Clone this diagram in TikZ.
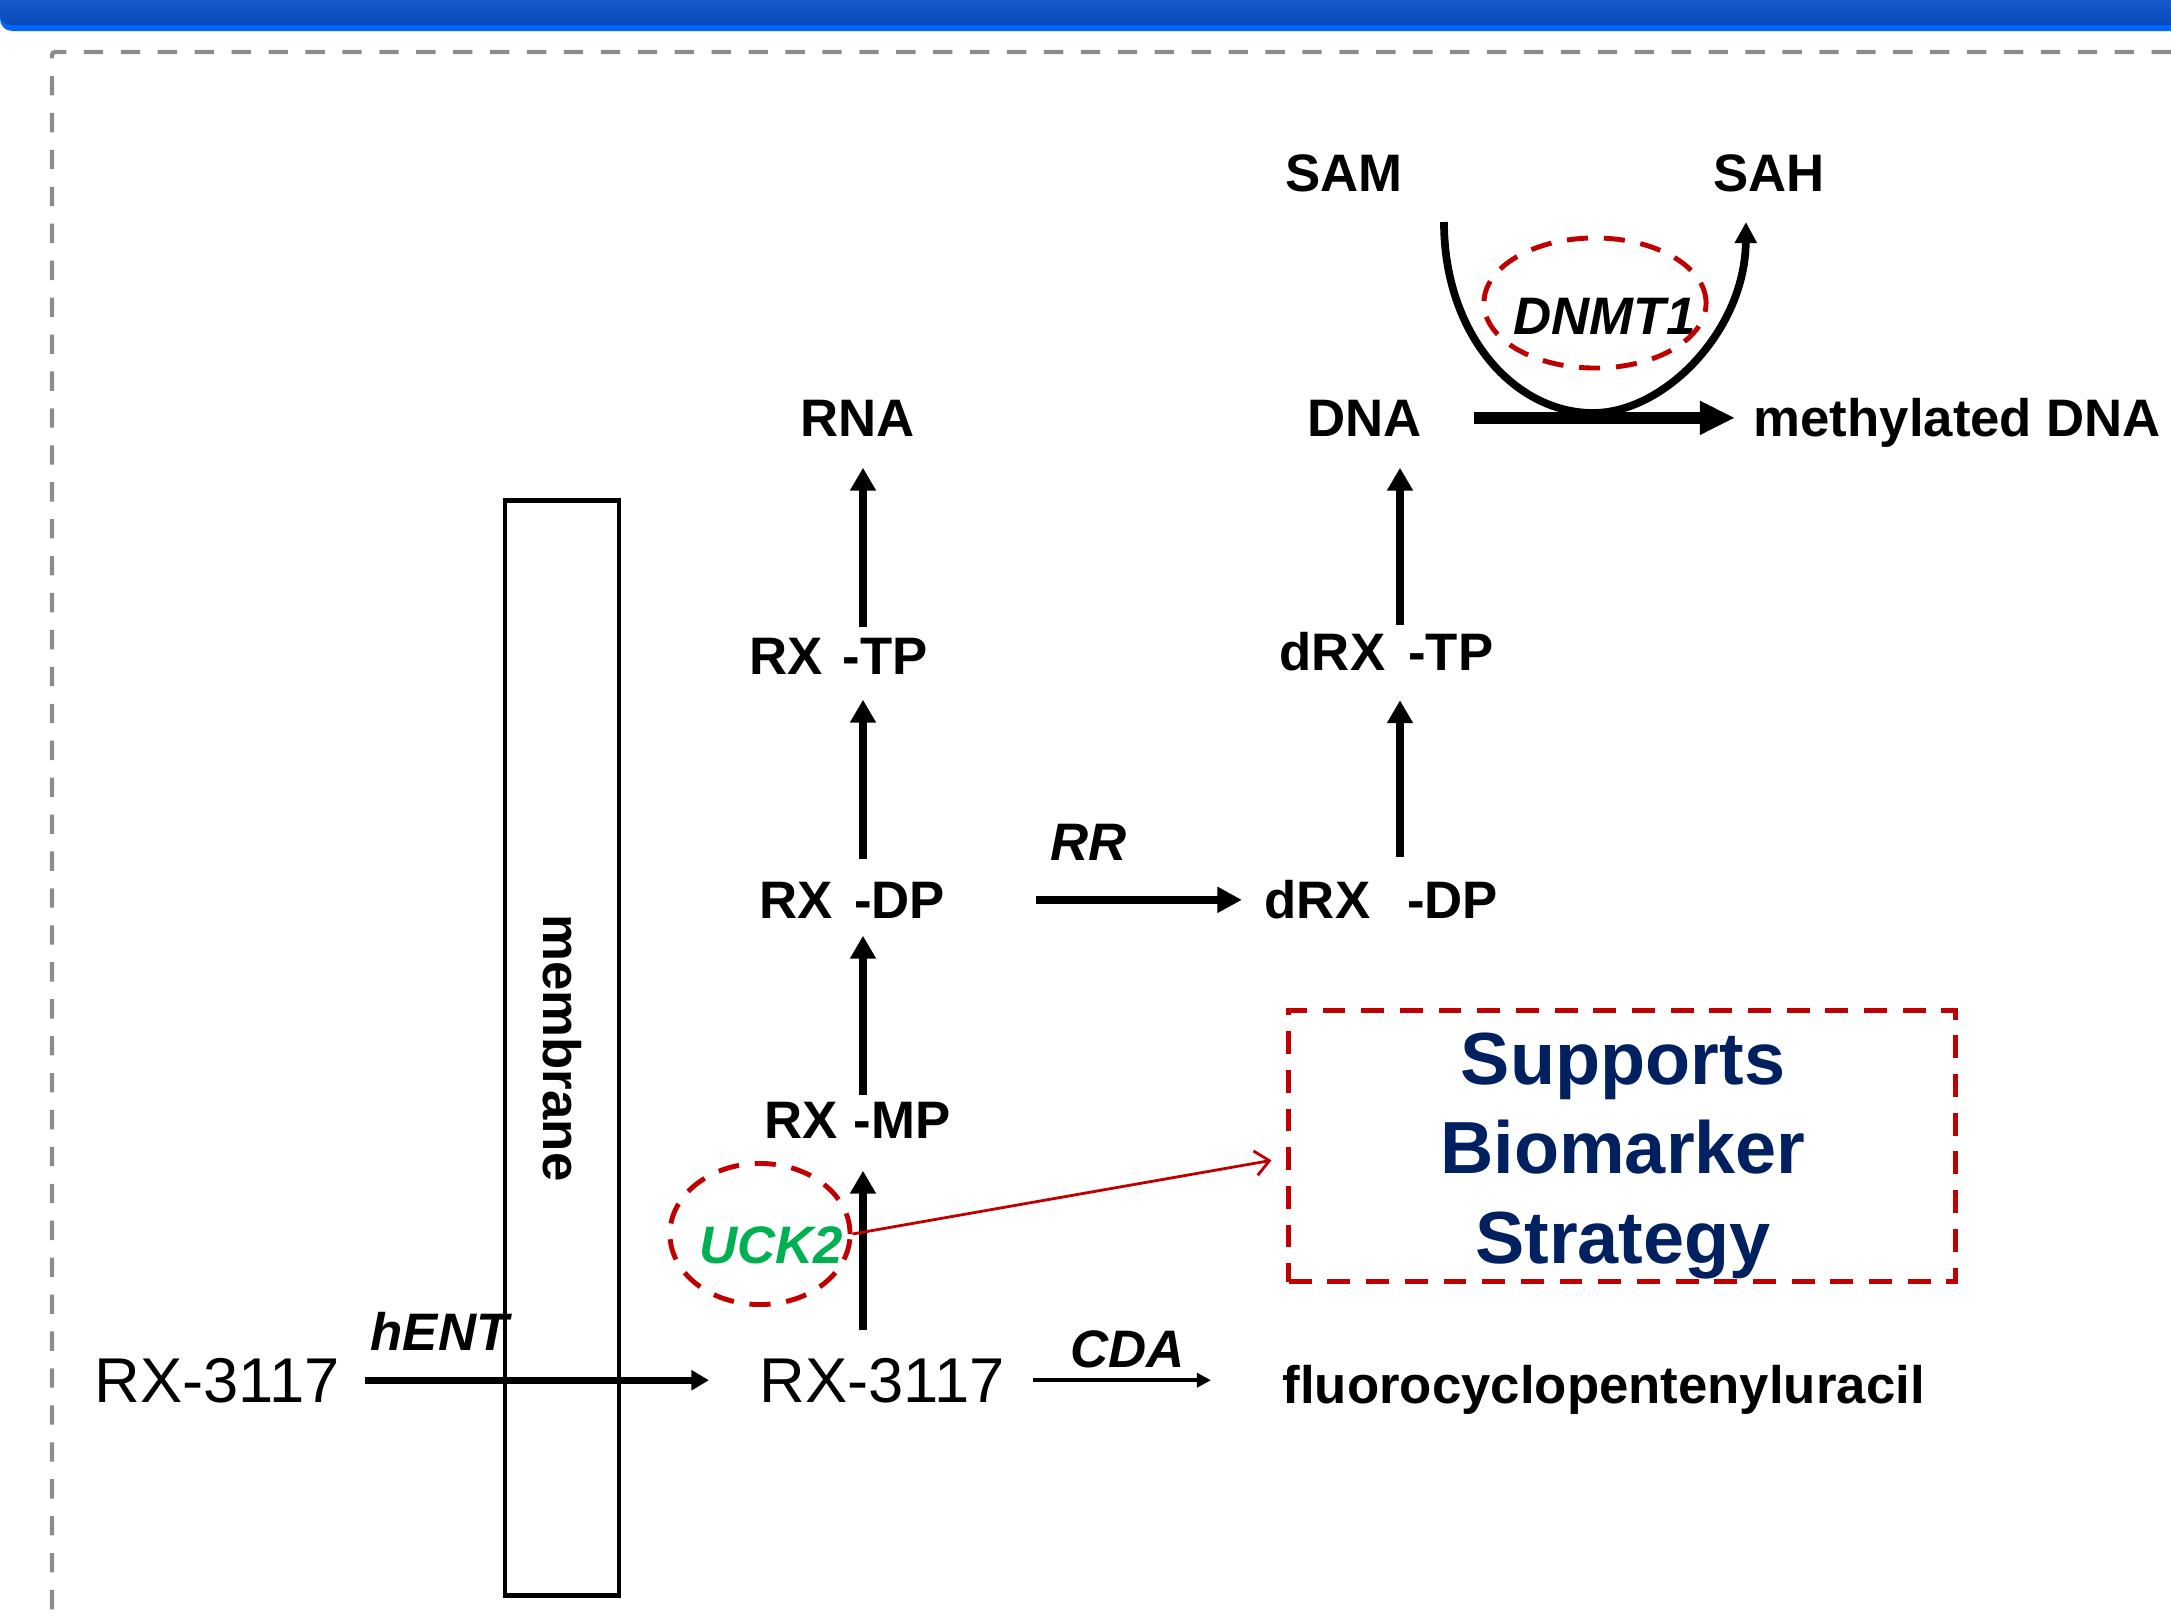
\documentclass[tikz,border=0pt]{standalone}
\usepackage{fontspec}
\setmainfont{Liberation Sans}
\usetikzlibrary{arrows.meta, shapes.geometric, positioning}
\definecolor{BarBlueTop}{HTML}{1558C8}
\definecolor{BarBlueBot}{HTML}{0A4BBB}
\definecolor{BarBright}{HTML}{0066FF}
\definecolor{FrameGray}{HTML}{8C8C8C}
\definecolor{MarkRed}{HTML}{C00000}
\definecolor{UckGreen}{HTML}{00B050}
\definecolor{BoxNavy}{HTML}{002060}

\begin{document}
\begin{tikzpicture}[x=0.01cm, y=-0.01cm,
    lbl/.style={font=\fontsize{15}{18}\selectfont\bfseries, inner sep=0pt, anchor=base west},
    enz/.style={font=\fontsize{15}{18}\selectfont\bfseries\itshape, inner sep=0pt, anchor=base west},
    drug/.style={font=\fontsize{18}{21}\selectfont, inner sep=0pt, anchor=base west},
    uparrow/.style={line width=2pt, -{Triangle[length=6.5pt, width=7pt]}},
    enzring/.style={draw=MarkRed, line width=1.4pt, dash pattern=on 6pt off 4.5pt, ellipse, inner sep=0pt}
]
        \useasboundingbox (0,0) rectangle (2171,1624);

        % 1. Title bar and frame
        \fill[BarBright] (2171,0) -- (0,0) [rounded corners=0.12cm] -- (0,31) [sharp corners] -- (2171,31) -- cycle;
        \shade[top color=BarBlueTop, bottom color=BarBlueBot] (2171,0) -- (0,0) [rounded corners=0.1cm] -- (0,25) [sharp corners] -- (2171,25) -- cycle;
        \draw[FrameGray, line width=1.2pt, dash pattern=on 5.5pt off 5pt, rounded corners=0.03cm] (2171,52) -- (52,52) -- (52,1624);

        % 2. Membrane
        \node[draw, line width=1.4pt, rotate=-90, minimum width=10.94cm, minimum height=1.14cm, inner sep=0pt,
              font=\fontsize{15}{18}\selectfont\bfseries] (membrane) at (562,1048) {membrane};

        % 3. Metabolites
        \node[drug] (rxout) at (94,1402) {RX-3117};
        \node[drug] (rxin) at (759,1402) {RX-3117};
        \node[lbl] (fcpu) at (1282,1403) {fluorocyclopentenyluracil};
        \node[lbl] (rxmp) at (764,1138) {RX\hspace{0.3em}-MP};
        \node[lbl] (rxdp) at (759,918) {RX\hspace{0.4em}-DP};
        \node[lbl] (rxtp) at (749,674) {RX\hspace{0.37em}-TP};
        \node[lbl] (rna) at (800,436) {RNA};
        \node[lbl] (drxdp) at (1264,918) {dRX\hspace{0.7em}-DP};
        \node[lbl] (drxtp) at (1279,670) {dRX\hspace{0.44em}-TP};
        \node[lbl] (dna) at (1307,436) {DNA};
        \node[lbl] (meth) at (1753,436) {methylated DNA};
        \node[lbl] (sam) at (1285,191) {SAM};
        \node[lbl] (sah) at (1713,191) {SAH};

        % 4. Enzymes
        \node[enz] (hent) at (370,1350) {hENT};
        \node[enz] (cda) at (1070,1367) {CDA};
        \node[enz] (rr) at (1050,860) {RR};
        \node[enz] (dnmt) at (1513,334) {DNMT1};
        \node[enz, text=UckGreen] (uck) at (699,1263) {UCK2};
        \node[enzring, minimum width=2.22cm, minimum height=1.30cm] (dnmtring) at (1595,303) {};
        \node[enzring, minimum width=1.80cm, minimum height=1.41cm] (uckring) at (760,1234) {};

        % 5. Biomarker box
        \node[draw=MarkRed, line width=1.4pt, dash pattern=on 6.5pt off 4.5pt, minimum width=6.66cm, minimum height=2.71cm] (biobox) at (1622,1146) {};
        \node[align=center, text=BoxNavy, font=\fontsize{21}{25.5}\selectfont\bfseries] (biotext) at (1623,1156) {Supports\\Biomarker\\Strategy};

        % 6. Arrows
        \coordinate (colA) at (863,0);
        \coordinate (colB) at (1400,0);
        \foreach \src/\dst/\col/\sa/\sb in {rxin/rxmp/colA/0.27cm/0.32cm, rxmp/rxdp/colA/0.06cm/0.17cm,
                rxdp/rxtp/colA/0.22cm/0.25cm, rxtp/rna/colA/0.10cm/0.31cm,
                drxdp/drxtp/colB/0.22cm/0.29cm, drxtp/dna/colB/0.06cm/0.31cm} {
            \draw[uparrow, shorten <=\sa, shorten >=\sb] (\src.north -| \col) -- (\dst.south -| \col);
        }
        \draw[line width=2pt, -{Triangle[length=5pt, width=5.5pt]}, shorten <=0.24cm, shorten >=0.5cm] (rxout.east) -- (rxin.west);
        \draw[line width=1pt, -{Triangle[length=4pt, width=4pt]}, shorten <=0.27cm, shorten >=0.71cm] (rxin.east) -- (rxin.east -| fcpu.west);
        \draw[line width=2.4pt, -{Triangle[length=7pt, width=7pt]}, shorten <=0.9cm, shorten >=0.22cm] (rxdp.east) -- (rxdp.east -| drxdp.west);
        \draw[line width=3.3pt, -{Triangle[length=10pt, width=9pt]}, shorten <=0.51cm, shorten >=0.18cm] (dna.east) -- (dna.east -| meth.west);

        % SAM -> SAH
        \coordinate (samout) at (1444,222);
        \coordinate (sahin) at (1746,222);
        \draw[line width=2.2pt, -{Triangle[length=6pt, width=6pt]}] (samout) .. controls (1444,335) and (1515,413) .. (1593,413)
            .. controls (1665,413) and (1745,330) .. (sahin);

        % UCK2 -> biomarker
        \draw[MarkRed, line width=0.8pt, -{Straight Barb[length=4pt, width=7pt]}, shorten >=0.15cm] (uckring.east) -- (biobox.182);

\end{tikzpicture}
\end{document}
